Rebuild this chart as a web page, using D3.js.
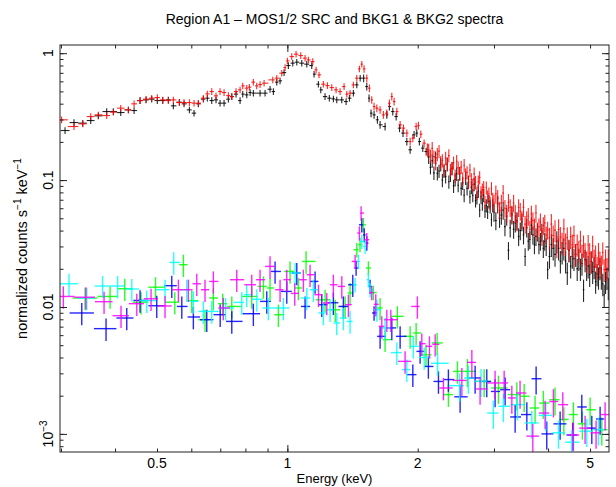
<!DOCTYPE html>
<html>
<head>
<meta charset="utf-8">
<script src="https://cdn.jsdelivr.net/npm/d3@7"></script>
<style>
  body { margin: 0; background: #fff; }
  svg text { font-family: "Liberation Sans", Arial, Helvetica, sans-serif; fill: #000; }
</style>
</head>
<body>
<div id="chart"></div>
<script>
/* MOS1/2 source spectra below 2.1 keV: [energy keV, normalized counts] */
const srcBlackLow = [
  [0.3066,0.2458],[0.3216,0.2841],[0.3369,0.281],[0.3515,0.2946],[0.366,0.3208],[0.3827,0.3468],
  [0.3964,0.3468],[0.4123,0.3405],[0.4294,0.3576],[0.4426,0.3532],[0.4569,0.4233],[0.4717,0.4287],
  [0.4861,0.4342],[0.5008,0.4233],[0.5155,0.4233],[0.5311,0.4287],[0.5454,0.3846],[0.5631,0.4112],
  [0.5773,0.3989],[0.5939,0.3576],[0.6088,0.3369],[0.623,0.3989],[0.6397,0.4342],[0.6534,0.4421],
  [0.6689,0.4233],[0.6843,0.4287],[0.6991,0.4039],[0.7142,0.4039],[0.7307,0.4342],[0.7441,0.4551],
  [0.7612,0.4756],[0.7776,0.4233],[0.7888,0.4756],[0.8057,0.4695],[0.8203,0.4895],[0.8345,0.4842],
  [0.8648,0.4842],[0.8882,0.4842],[0.912,0.52],[0.9283,0.4985],[0.9452,0.5909],[0.9619,0.6051],
  [0.9826,0.7035],[1.0053,0.7988],[1.0291,0.8343],[1.0512,0.8494],[1.0795,0.8343],[1.1086,0.8193],
  [1.1384,0.7988],[1.1525,0.6834],[1.1792,0.5699],[1.1944,0.5141],[1.2218,0.4551],[1.25,0.4421],
  [1.2772,0.4366],[1.3003,0.4287],[1.3353,0.4287],[1.3666,0.4157],[1.3912,0.4421],[1.4204,0.4842],
  [1.4465,0.5628],[1.4729,0.6356],[1.5,0.6356],[1.5254,0.5457],[1.544,0.4421],[1.5604,0.3369],
  [1.5857,0.3267],[1.6141,0.2985],[1.6373,0.2725],[1.6813,0.2643],[1.6968,0.3267],[1.7205,0.3798],
  [1.7516,0.3468],[1.783,0.3168],[1.8155,0.2567],[1.8494,0.2345],[1.8874,0.2013],[1.9208,0.1732],
  [1.9614,0.2273],[1.9901,0.2345],[2.0174,0.2013],[2.0546,0.1786],[2.0916,0.1679]
];
const srcRedLow = [
  [0.301,0.2985],[0.3216,0.2643],[0.3369,0.2775],[0.3515,0.3168],[0.366,0.3267],[0.3827,0.3226],
  [0.3964,0.343],[0.4123,0.3688],[0.4294,0.3576],[0.4426,0.3989],[0.4569,0.4233],[0.4717,0.4342],
  [0.4861,0.4421],[0.5008,0.447],[0.5155,0.4287],[0.5311,0.4233],[0.5454,0.4287],[0.5631,0.4083],
  [0.5773,0.4083],[0.5939,0.4083],[0.6088,0.4039],[0.623,0.4039],[0.6397,0.4421],[0.6534,0.4782],
  [0.6689,0.4985],[0.6843,0.461],[0.6991,0.4985],[0.7142,0.4895],[0.7307,0.4635],[0.7441,0.4551],
  [0.7612,0.4985],[0.7776,0.5141],[0.7888,0.5527],[0.8057,0.5302],[0.8171,0.54],[0.8345,0.5909],
  [0.8497,0.5527],[0.8648,0.5658],[0.8836,0.5803],[0.9253,0.6163],[0.9452,0.6356],[0.9707,0.696],
  [0.9879,0.7703],[1.0,0.8697],[1.0237,0.9401],[1.0474,0.982],[1.0738,0.9574],[1.0987,0.9133],
  [1.1181,0.8855],[1.1447,0.8587],[1.1649,0.7387],[1.1835,0.6747],[1.2109,0.5699],[1.2371,0.5557],
  [1.2663,0.5359],[1.2956,0.5141],[1.3234,0.4985],[1.3518,0.5457],[1.3715,0.4756],[1.3957,0.4842],
  [1.4204,0.5628],[1.4465,0.6356],[1.4667,0.7523],[1.4853,0.8193],[1.5035,0.7523],[1.5254,0.6356],
  [1.5466,0.5302],[1.5663,0.4287],[1.5857,0.3798],[1.6089,0.3688],[1.6373,0.3576],[1.6663,0.3267],
  [1.6968,0.3369],[1.7205,0.4039],[1.7425,0.4551],[1.7639,0.4157],[1.7897,0.3468],[1.8213,0.2725],
  [1.8535,0.2567],[1.8874,0.2345],[1.9208,0.2013],[1.9486,0.2141],[1.983,0.2643],[2.0073,0.2691],
  [2.0332,0.2302],[2.0692,0.1956],[2.1059,0.1732]
];

/* finer bins above 2.1 keV, shared by both source spectra */
const srcHighEnergy = [
  2.12,2.14,2.16,2.18,2.20,2.22,2.24,2.26,2.28,2.30,2.32,2.34,2.36,2.38,2.40,2.42,2.44,2.46,2.48,2.50,
  2.52,2.54,2.56,2.58,2.60,2.62,2.64,2.66,2.68,2.70,2.72,2.74,2.76,2.78,2.80,2.82,2.84,2.86,2.88,2.90,
  2.92,2.94,2.96,2.98,3.00,3.03,3.06,3.09,3.12,3.15,3.18,3.21,3.24,3.27,3.30,3.33,3.36,3.39,3.42,3.45,
  3.48,3.51,3.54,3.57,3.60,3.63,3.66,3.69,3.72,3.75,3.78,3.81,3.84,3.87,3.90,3.93,3.96,3.99,4.03,4.07,
  4.11,4.15,4.19,4.23,4.27,4.31,4.35,4.39,4.43,4.47,4.51,4.55,4.59,4.63,4.67,4.71,4.75,4.79,4.83,4.87,
  4.91,4.95,4.99,5.03,5.07,5.11,5.15,5.19,5.23,5.27,5.31,5.35,5.39,5.43,5.47,5.51
];
const srcRedHigh = [
  0.173,0.155,0.178,0.153,0.136,0.160,0.169,0.138,0.143,0.120,
  0.149,0.135,0.156,0.120,0.124,0.137,0.108,0.141,0.125,0.112,
  0.127,0.103,0.131,0.110,0.115,0.096,0.120,0.101,0.092,0.112,
  0.096,0.079,0.097,0.105,0.080,0.084,0.088,0.067,0.087,0.074,
  0.078,0.066,0.086,0.071,0.066,
  0.078,0.072,0.058,0.066,0.079,0.060,0.055,0.067,0.061,0.053,
  0.066,0.055,0.047,0.061,0.057,0.049,0.061,0.045,0.049,0.052,
  0.041,0.054,0.048,0.043,0.055,0.040,0.043,0.047,0.036,0.044,
  0.046,0.037,0.0405,
  0.035,0.045,0.0366,0.0403,0.0303,0.0409,0.0356,0.032,0.0413,0.0316,
  0.0352,0.0284,0.0358,0.031,0.0365,0.026,0.0311,0.0276,0.0333,0.0258,
  0.0305,0.0266,0.0228,0.0308,0.0265,0.0229,0.0303,0.0235,0.0254,0.0207,
  0.0266,0.0228,0.0211,0.0269,0.0197,0.0237,0.0202,0.0238
];
const srcBlackHigh = [
  0.152,0.126,0.142,0.114,0.150,0.113,0.118,0.133,0.100,0.118,
  0.107,0.133,0.097,0.110,0.124,0.090,0.101,0.112,0.091,0.113,
  0.086,0.095,0.076,0.104,0.086,0.097,0.074,0.088,0.076,0.093,
  0.069,0.073,0.082,0.058,0.074,0.065,0.076,0.057,0.063,0.056,
  0.068,0.062,0.049,0.063,0.056,
  0.048,0.065,0.050,0.053,0.058,0.043,0.052,0.028,0.042,0.054,
  0.041,0.046,0.048,0.036,0.040,0.047,0.037,0.025,0.042,0.033,
  0.034,0.044,0.037,0.031,0.036,0.039,0.031,0.033,0.039,0.029,
  0.033,0.030,0.0197,
  0.025,0.031,0.029,0.026,0.033,0.029,0.023,0.027,0.029,0.023,
  0.0186,0.028,0.021,0.025,0.024,0.026,0.020,0.024,0.020,0.022,
  0.0137,0.0235,0.020,0.021,0.018,0.0228,0.019,0.0207,0.0159,0.0182,
  0.0171,0.0203,0.0171,0.0152,0.0125,0.0158,0.017,0.0141
];

/* BKG1 & BKG2 spectra */
const bkgGreen = [
  [0.341,0.01177],[0.3896,0.01211],[0.4212,0.01393],[0.4593,0.01091],[0.4961,0.01432],[0.5496,0.01091],
  [0.5753,0.02153],[0.6015,0.01122],[0.6454,0.00794],[0.6746,0.01177],[0.709,0.01062],[0.7441,0.0101],
  [0.8274,0.01211],[0.8803,0.01453],[0.912,0.01412],[0.9533,0.00869],[1.0144,0.01906],[1.0602,0.01412],
  [1.1046,0.02286],[1.2221,0.0114],[1.29,0.0095],[1.3594,0.0101],[1.3957,0.01289],[1.4465,0.02826],
  [1.4715,0.031],[1.4982,0.04446],[1.5384,0.02028],[1.58,0.013],[1.6373,0.00982],[1.6813,0.00553],
  [1.7947,0.00844],[1.9208,0.00587],[1.983,0.00624],[2.09,0.0042],[2.2172,0.00521],[2.3543,0.00204],
  [2.4701,0.00311],[2.6052,0.00311],[2.8471,0.00259],[3.0718,0.0023],[3.3874,0.00204],[3.5219,0.00198],
  [3.7328,0.0016],[3.9003,0.00175],[4.151,0.00186],[4.35,0.0013],[4.576,0.00142],[4.8,0.0012],
  [5.0023,0.00155],[5.3224,0.00108]
];
const bkgBlue = [
  [0.3351,0.00897],[0.3813,0.00675],[0.4257,0.00819],[0.4569,0.01127],[0.4993,0.01023],[0.5408,0.01472],
  [0.5704,0.0101],[0.6066,0.00834],[0.6514,0.00794],[0.6996,0.0087],[0.7441,0.0077],[0.8345,0.00885],
  [0.8962,0.01107],[0.9367,0.01906],[0.9968,0.01327],[1.0513,0.01853],[1.0987,0.0101],[1.1588,0.0159],
  [1.2007,0.01043],[1.277,0.0108],[1.3469,0.0101],[1.4159,0.01497],[1.4412,0.02028],[1.4853,0.04446],
  [1.505,0.037],[1.5254,0.0319],[1.5524,0.01453],[1.5857,0.00897],[1.6373,0.00587],[1.7425,0.00684],
  [1.8213,0.00587],[1.9486,0.00293],[2.0256,0.00447],[2.1165,0.0034],[2.2331,0.00259],[2.3543,0.00268],
  [2.5056,0.00196],[2.7136,0.00276],[2.8872,0.00259],[3.0177,0.00216],[3.1834,0.00223],[3.3572,0.00136],
  [3.5727,0.00142],[3.7534,0.00272],[3.9719,0.001],[4.2644,0.0012],[4.5612,0.00098],[4.7847,0.00163],
  [5.0466,0.00111],[5.2748,0.00131]
];
const bkgCyan = [
  [0.3131,0.01525],[0.3441,0.01177],[0.3743,0.01463],[0.4055,0.01463],[0.4372,0.01386],[0.4734,0.01122],
  [0.5218,0.01368],[0.5465,0.02245],[0.5857,0.01368],[0.6066,0.01107],[0.6397,0.00923],[0.6689,0.00923],
  [0.72,0.0098],[0.7846,0.01087],[0.8057,0.0125],[0.85,0.0115],[0.904,0.00982],[0.979,0.00982],
  [1.0418,0.01853],[1.1088,0.01177],[1.1482,0.01368],[1.2109,0.00897],[1.255,0.00952],[1.3003,0.00748],
  [1.3469,0.00819],[1.3957,0.0077],[1.4334,0.01497],[1.4588,0.02286],[1.4853,0.03285],[1.5117,0.03],
  [1.5384,0.0164],[1.5524,0.01368],[1.61,0.0095],[1.6813,0.00684],[1.7897,0.00437],[1.8874,0.00321],
  [1.954,0.0049],[2.07,0.004],[2.2232,0.0036],[2.5,0.0024],[2.6182,0.00276],[2.8,0.0026],
  [2.9904,0.00146],[3.1538,0.00165],[3.4,0.0017],[3.668,0.00122],[3.95,0.0014],[4.2263,0.00102],
  [4.537,0.00086],[4.9139,0.00105],[5.2263,0.00108]
];
const bkgMagenta = [
  [0.3038,0.01211],[0.3425,0.01194],[0.3773,0.01101],[0.4129,0.00854],[0.449,0.01062],[0.4844,0.01161],
  [0.5218,0.01019],[0.5602,0.01368],[0.5907,0.01368],[0.6177,0.01525],[0.6454,0.01368],[0.6746,0.0159],
  [0.7113,0.00982],[0.764,0.0164],[0.8274,0.01497],[0.8648,0.0164],[0.912,0.02089],[0.9619,0.01368],
  [0.9968,0.0164],[1.04,0.0128],[1.0889,0.0164],[1.1282,0.01796],[1.18,0.0125],[1.2331,0.01075],
  [1.277,0.01497],[1.3356,0.01453],[1.3833,0.01043],[1.4334,0.02286],[1.4667,0.03826],[1.48,0.05495],
  [1.5254,0.03388],[1.5663,0.01297],[1.6,0.0105],[1.652,0.00704],[1.6968,0.00794],[1.7333,0.00794],
  [1.87,0.00373],[1.9961,0.0101],[2.0439,0.00514],[2.1285,0.0049],[2.194,0.00508],[2.2932,0.0023],
  [2.5288,0.00264],[2.6669,0.00366],[2.7861,0.00226],[3.0177,0.00252],[3.1667,0.00252],[3.2986,0.00192],
  [3.446,0.0021],[3.6877,0.00096],[3.9365,0.00146],[4.115,0.0018],[4.3251,0.0017],[4.576,0.00098],
  [4.8692,0.00111],[5.1628,0.00102],[5.417,0.00142]
];

/* relative 1-sigma error, by lower energy of band */
const srcErrBands = [[0, 0.06], [1.5, 0.07], [2.1, 0.12], [3.0, 0.16], [4.0, 0.2]];
const bkgErrBands = [[0, 0.2], [1.42, 0.13], [1.6, 0.2], [2.5, 0.25]];

const xTickLabels = [0.5, 1, 2, 5];
const yTickLabels = ["1", "0.1", "0.01", "10-3"];
const yTickValues = [1, 0.1, 0.01, 0.001];

const chartTitle = "Region A1 \u2013 MOS1/2 SRC and BKG1 & BKG2 spectra";

const srcBlack = srcBlackLow.concat(srcHighEnergy.map((e, i) => [e, srcBlackHigh[i]]));
const srcRed = srcRedLow.concat(srcHighEnergy.map((e, i) => [e, srcRedHigh[i]]));

const W = 616, H = 487;
const pLeft = 60, pRight = 609, pTop = 45, pBottom = 452;

const svg = d3.select("#chart").append("svg")
  .attr("width", W).attr("height", H);

const x = d3.scaleLog().domain([0.2985, 5.53]).range([pLeft, pRight]);
const y = d3.scaleLog().domain([7.2e-4, 1.16]).range([pBottom, pTop]);

svg.append("clipPath").attr("id", "plotclip")
  .append("rect").attr("x", pLeft).attr("y", pTop)
  .attr("width", pRight - pLeft).attr("height", pBottom - pTop);

function errFor(bands, e) {
  let r = bands[0][1];
  bands.forEach(b => { if (e >= b[0]) r = b[1]; });
  return r;
}

/* crosses: horizontal bar = bin width, vertical bar = error */
function drawSpectrum(data, color, bands, sw, op) {
  const pts = data.map(d => ({ e: d[0], v: d[1] }));
  pts.forEach((p, i) => {
    const prev = pts[i - 1], next = pts[i + 1];
    p.lo = prev ? Math.sqrt(prev.e * p.e) : p.e * p.e / Math.sqrt(p.e * next.e);
    p.hi = next ? Math.sqrt(next.e * p.e) : p.e * p.e / Math.sqrt(p.e * prev.e);
    const r = errFor(bands, p.e);
    p.v0 = p.v * (1 - r);
    p.v1 = p.v * (1 + r);
  });
  const g = svg.append("g").attr("clip-path", "url(#plotclip)")
    .attr("stroke", color).attr("stroke-width", sw).attr("stroke-opacity", op);
  g.selectAll("line.h").data(pts).join("line").attr("class", "h")
    .attr("x1", d => x(d.lo)).attr("x2", d => x(d.hi))
    .attr("y1", d => y(d.v)).attr("y2", d => y(d.v));
  g.selectAll("line.v").data(pts).join("line").attr("class", "v")
    .attr("x1", d => x(d.e)).attr("x2", d => x(d.e))
    .attr("y1", d => y(d.v0)).attr("y2", d => y(d.v1));
}

drawSpectrum(srcBlack, "#000000", srcErrBands, 1.1, 0.85);
drawSpectrum(srcRed, "#ff0000", srcErrBands, 1.1, 0.85);
drawSpectrum(bkgGreen, "#00ff00", bkgErrBands, 1.4, 0.85);
drawSpectrum(bkgBlue, "#0000ff", bkgErrBands, 1.4, 0.85);
drawSpectrum(bkgCyan, "#00ffff", bkgErrBands, 1.4, 0.85);
drawSpectrum(bkgMagenta, "#ff00ff", bkgErrBands, 1.4, 0.85);

/* frame and inward ticks on all sides */
const axes = svg.append("g").attr("class", "axes");
function tickAxis(axisFn, scale, values, len, tx, ty) {
  const a = axes.append("g").attr("transform", `translate(${tx},${ty})`)
    .call(axisFn(scale).tickValues(values).tickSize(len).tickFormat(""));
  a.select(".domain").remove();
  a.selectAll(".tick line").attr("stroke", "#222").attr("stroke-width", 1);
}
const xMinor = x.ticks();
const xMajor = [1];
const yMinor = y.ticks();
const yMajor = yTickValues;

tickAxis(d3.axisBottom, x, xMinor, -3.5, 0, pBottom);
tickAxis(d3.axisBottom, x, xMajor, -7, 0, pBottom);
tickAxis(d3.axisTop, x, xMinor, -3.5, 0, pTop);
tickAxis(d3.axisTop, x, xMajor, -7, 0, pTop);
tickAxis(d3.axisLeft, y, yMinor, -3.5, pLeft, 0);
tickAxis(d3.axisLeft, y, yMajor, -7, pLeft, 0);
tickAxis(d3.axisRight, y, yMinor, -3.5, pRight, 0);
tickAxis(d3.axisRight, y, yMajor, -7, pRight, 0);

axes.append("rect").attr("x", pLeft).attr("y", pTop)
  .attr("width", pRight - pLeft).attr("height", pBottom - pTop)
  .attr("fill", "none").attr("stroke", "#222").attr("stroke-width", 1);

/* tick labels */
svg.append("g").selectAll("text").data(xTickLabels).join("text")
  .attr("x", d => x(d)).attr("y", 468)
  .attr("text-anchor", "middle").attr("font-size", 14)
  .text(d => d);

yTickValues.forEach((v, i) => {
  const t = svg.append("text")
    .attr("transform", `translate(53,${y(v)}) rotate(-90)`)
    .attr("text-anchor", "middle").attr("font-size", 14);
  const lab = yTickLabels[i];
  if (lab.startsWith("10-")) {
    t.append("tspan").text("10");
    t.append("tspan").attr("dy", -6).attr("font-size", 10).text("\u2212" + lab.slice(3));
  } else {
    t.text(lab);
  }
});

/* titles */
svg.append("text").attr("x", 334.5).attr("y", 24)
  .attr("text-anchor", "middle").attr("font-size", 14)
  .text(chartTitle);

svg.append("text").attr("x", 334.5).attr("y", 483)
  .attr("text-anchor", "middle").attr("font-size", 13)
  .text("Energy (keV)");

const yt = svg.append("text")
  .attr("transform", `translate(27,${(pTop + pBottom) / 2}) rotate(-90)`)
  .attr("text-anchor", "middle").attr("font-size", 14.5);
yt.append("tspan").text("normalized counts s");
yt.append("tspan").attr("dy", -6).attr("font-size", 10).text("\u22121");
yt.append("tspan").attr("dy", 6).text(" keV");
yt.append("tspan").attr("dy", -6).attr("font-size", 10).text("\u22121");
</script>
</body>
</html>
